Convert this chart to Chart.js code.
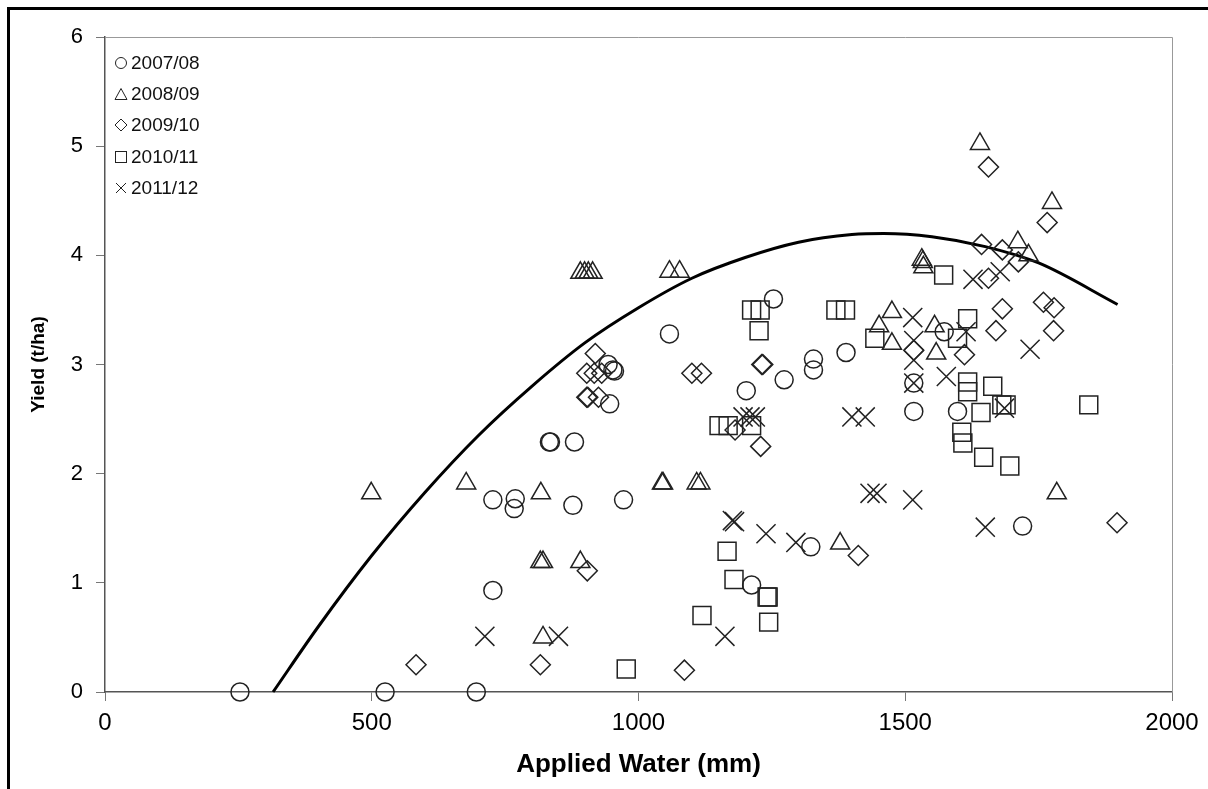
<!DOCTYPE html>
<html>
<head>
<meta charset="utf-8">
<title>Yield vs applied water</title>
<script src="https://cdn.jsdelivr.net/npm/chart.js"></script>
<style>
  body { margin: 0; background: #fff; font-family: "Liberation Sans", Arial, sans-serif; }
  #wrap { position: relative; width: 1208px; height: 789px; overflow: hidden; }
  #frame { position: absolute; left: 7px; top: 7px; width: 1400px; height: 1000px;
           border-top: 3px solid #000; border-left: 3px solid #000; pointer-events: none; }
  #legend { position: absolute; left: 114px; top: 47px; font-size: 19px; color: #111; }
  #legend .row { display: flex; align-items: center; height: 31.3px; }
  #legend svg { width: 14px; height: 14px; margin-right: 3px; }
</style>
</head>
<body>
<div id="wrap">
  <canvas id="chart" width="1208" height="789"></canvas>
  <div id="frame"></div>
  <div id="legend"></div>
</div>

<script>
// ---- data ----
const seasons = ["2007/08", "2008/09", "2009/10", "2010/11", "2011/12"];

const water0708 = [253, 525, 696, 727, 727, 769, 767, 877, 972, 833, 835, 880, 946, 943, 952, 955,
                   1058, 1202, 1253, 1273, 1328, 1328, 1389, 1212, 1323, 1516, 1516, 1598, 1573, 1720];
const yield0708 = [0, 0, 0, 0.93, 1.76, 1.77, 1.68, 1.71, 1.76, 2.29, 2.29, 2.29, 2.64, 3.00, 2.95, 2.94,
                   3.28, 2.76, 3.60, 2.86, 3.05, 2.95, 3.11, 0.98, 1.33, 2.83, 2.57, 2.57, 3.30, 1.52];

const water0809 = [499, 677, 817, 816, 821, 891, 821, 1044, 1046, 1109, 1116, 891, 899, 906, 914, 1058, 1077,
                   1378, 1475, 1451, 1475, 1531, 1533, 1534, 1555, 1558, 1640, 1711, 1731, 1775, 1784];
const yield0809 = [1.82, 1.91, 1.82, 1.19, 1.19, 1.19, 0.50, 1.91, 1.91, 1.91, 1.91, 3.84, 3.84, 3.84, 3.84, 3.85, 3.85,
                   1.36, 3.48, 3.35, 3.19, 3.96, 3.94, 3.89, 3.35, 3.10, 5.02, 4.12, 4.00, 4.48, 1.82];

const water0910 = [583, 816, 1086, 904, 919, 903, 917, 931, 903, 905, 925, 1100, 1118, 1231, 1233, 1181,
                   1229, 1412, 1516, 1611, 1643, 1656, 1682, 1712, 1656, 1682, 1670, 1759, 1779, 1778, 1766, 1897];
const yield0910 = [0.25, 0.25, 0.20, 1.11, 3.10, 2.92, 2.92, 2.92, 2.70, 2.70, 2.70, 2.92, 2.92, 3.00, 3.00, 2.40,
                   2.25, 1.25, 3.13, 3.09, 4.10, 4.81, 4.05, 3.94, 3.79, 3.51, 3.31, 3.57, 3.52, 3.31, 4.30, 1.55];

const water1011 = [977, 1119, 1166, 1179, 1241, 1243, 1244, 1151, 1168, 1212, 1212, 1228, 1226, 1370, 1388,
                   1443, 1572, 1617, 1598, 1617, 1617, 1664, 1681, 1689, 1642, 1606, 1608, 1647, 1696, 1844];
const yield1011 = [0.21, 0.70, 1.29, 1.03, 0.87, 0.87, 0.64, 2.44, 2.44, 2.44, 3.50, 3.50, 3.31, 3.50, 3.50,
                   3.24, 3.82, 3.42, 3.24, 2.84, 2.75, 2.80, 2.63, 2.63, 2.56, 2.38, 2.28, 2.15, 2.07, 2.63];

const water1112 = [712, 850, 1162, 1176, 1180, 1239, 1295, 1196, 1209, 1219, 1400, 1425, 1434, 1447, 1514,
                   1650, 1516, 1577, 1514, 1516, 1516, 1614, 1627, 1678, 1734, 1686];
const yield1112 = [0.51, 0.51, 0.51, 1.57, 1.56, 1.45, 1.37, 2.52, 2.52, 2.52, 2.52, 2.52, 1.82, 1.82, 1.76,
                   1.51, 2.83, 2.89, 3.43, 3.22, 3.04, 3.30, 3.78, 3.85, 3.14, 2.60];

// fitted curve, points
const curveWater = [315, 400, 500, 600, 700, 800, 900, 1000, 1100, 1200, 1300, 1400, 1460, 1550, 1650, 1750, 1898];
const curveYield = [0, 0.60, 1.25, 1.83, 2.35, 2.80, 3.20, 3.52, 3.79, 3.98, 4.12, 4.19, 4.20, 4.17, 4.08, 3.93, 3.55];

// ---- styling ----
const markerStyle = ["circle", "triangle", "rectRot", "rect", "crossRot"];
const markerRadius = [9, 11, 10, 12.7, 13.5];
const legendIcons = [
  '<circle cx="7" cy="7" r="5.5"/>',
  '<polygon points="1,12.5 13,12.5 7,1.5"/>',
  '<polygon points="7,1 13,7 7,13 1,7"/>',
  '<rect x="1.5" y="1.5" width="11" height="11"/>',
  '<path d="M2 2 L12 12 M12 2 L2 12"/>'
];

const waterBySeason = [water0708, water0809, water0910, water1011, water1112];
const yieldBySeason = [yield0708, yield0809, yield0910, yield1011, yield1112];

Chart.defaults.font.family = '"Liberation Sans", Arial, sans-serif';
Chart.defaults.color = "#000";

const datasets = seasons.map((name, i) => ({
  label: name,
  data: waterBySeason[i].map((w, j) => ({ x: w, y: yieldBySeason[i][j] })),
  pointStyle: markerStyle[i],
  pointRadius: markerRadius[i],
  pointHoverRadius: markerRadius[i],
  pointBorderWidth: 1.5,
  borderColor: "#222",
  backgroundColor: "rgba(0,0,0,0)",
  clip: false
}));

datasets.push({
  type: "line",
  label: "fit",
  data: curveWater.map((w, j) => ({ x: w, y: curveYield[j] })),
  borderColor: "#000",
  borderWidth: 3,
  pointRadius: 0,
  fill: false,
  cubicInterpolationMode: "monotone",
  clip: false
});

// grey top/right edge of the plot area
const plotFrame = {
  id: "plotFrame",
  beforeDatasetsDraw(chart) {
    const { ctx, chartArea: a } = chart;
    ctx.save();
    ctx.strokeStyle = "#999";
    ctx.lineWidth = 1;
    ctx.beginPath();
    ctx.moveTo(a.left, a.top + 0.5);
    ctx.lineTo(a.right + 0.5, a.top + 0.5);
    ctx.lineTo(a.right + 0.5, a.bottom);
    ctx.stroke();
    ctx.restore();
  }
};

new Chart(document.getElementById("chart"), {
  type: "scatter",
  data: { datasets },
  options: {
    responsive: false,
    animation: false,
    events: [],
    layout: { padding: { top: 37, right: 36, bottom: 0, left: 0 } },
    plugins: { legend: { display: false }, tooltip: { enabled: false } },
    scales: {
      x: {
        type: "linear", min: 0, max: 2000,
        afterFit: (s) => { s.height = 97; },
        ticks: { stepSize: 500, font: { size: 24 }, padding: 8, color: "#000",
                 callback: (v) => String(v) },
        grid: { drawOnChartArea: false, tickLength: 9, color: "#777" },
        border: { color: "#555", width: 1.5 },
        title: { display: true, text: "Applied Water (mm)", font: { size: 26, weight: "bold" },
                 padding: { top: 0, bottom: 9 }, color: "#000" }
      },
      y: {
        min: 0, max: 6,
        afterFit: (s) => { s.width = 105; },
        ticks: { stepSize: 1, font: { size: 22 }, padding: 13, color: "#000",
                 callback: (v) => String(v) },
        grid: { drawOnChartArea: false, tickLength: 9, color: "#777" },
        border: { color: "#555", width: 1.5 },
        title: { display: true, text: "Yield (t/ha)", font: { size: 19, weight: "bold" },
                 padding: { top: 27, bottom: 0 }, color: "#000" }
      }
    }
  },
  plugins: [plotFrame]
});

// legend sits inside the plot, top-left
document.getElementById("legend").innerHTML = seasons.map((name, i) =>
  '<div class="row"><svg viewBox="0 0 14 14" fill="none" stroke="#222" stroke-width="1">' +
  legendIcons[i] + '</svg><span>' + name + '</span></div>'
).join("");
</script>
</body>
</html>
